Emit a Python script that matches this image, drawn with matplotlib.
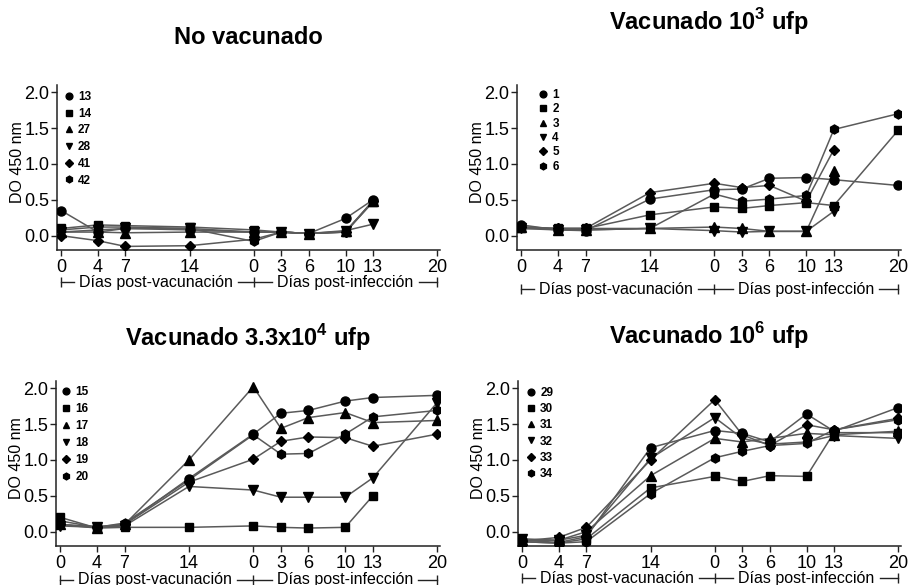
import numpy as np
import matplotlib
matplotlib.use('Agg')
import matplotlib.pyplot as plt
from matplotlib.lines import Line2D

plt.rcParams['font.family'] = ['Liberation Sans', 'DejaVu Sans']
plt.rcParams['mathtext.fontset'] = 'custom'
plt.rcParams['mathtext.rm'] = 'Liberation Sans'
plt.rcParams['mathtext.bf'] = 'Liberation Sans:bold'

nan = np.nan

# ---------------- data ----------------
vac_days = [0, 4, 7, 14]
inf_days = [0, 3, 6, 10, 13, 20]
tick_labels = [str(d) for d in vac_days + inf_days]
inf_offset = 21  # position of infection day 0 on the shared axis

titles = ['No vacunado',
          r'Vacunado 10$^{\mathbf{3}}$ ufp',
          r'Vacunado 3.3x10$^{\mathbf{4}}$ ufp',
          r'Vacunado 10$^{\mathbf{6}}$ ufp']

ids_nv = ['13', '14', '27', '28', '41', '42']
vals_nv = [
    [0.35, 0.05, 0.10, 0.08, 0.05, 0.05, 0.03, 0.24, 0.50, nan],
    [0.10, 0.15, 0.14, 0.12, 0.08, 0.05, 0.03, 0.05, 0.47, nan],
    [0.05, 0.05, 0.04, 0.05, 0.05, 0.05, 0.03, 0.06, 0.48, nan],
    [0.05, 0.08, 0.10, 0.10, 0.05, 0.05, 0.03, 0.07, 0.16, nan],
    [0.00, -0.07, -0.15, -0.14, -0.05, 0.05, 0.03, 0.05, 0.48, nan],
    [0.08, 0.12, 0.12, 0.10, -0.08, 0.05, 0.03, 0.05, 0.49, nan],
]

ids_v3 = ['1', '2', '3', '4', '5', '6']
vals_v3 = [
    [0.15, 0.08, 0.07, 0.51, 0.64, 0.65, 0.80, 0.81, 0.78, 0.70],
    [0.10, 0.10, 0.10, 0.29, 0.40, 0.38, 0.42, 0.46, 0.42, 1.47],
    [0.12, 0.08, 0.08, 0.10, 0.12, 0.10, 0.06, 0.06, 0.90, nan],
    [0.10, 0.08, 0.08, 0.10, 0.07, 0.05, 0.06, 0.06, 0.34, nan],
    [0.12, 0.10, 0.10, 0.60, 0.73, 0.67, 0.70, 0.48, 1.20, nan],
    [0.12, 0.10, 0.10, 0.10, 0.58, 0.48, 0.51, 0.56, 1.48, 1.70],
]

ids_v4 = ['15', '16', '17', '18', '19', '20']
vals_v4 = [
    [0.10, 0.07, 0.10, 0.74, 1.36, 1.65, 1.69, 1.82, 1.87, 1.90],
    [0.20, 0.05, 0.06, 0.06, 0.08, 0.06, 0.05, 0.06, 0.50, nan],
    [0.10, 0.05, 0.10, 1.00, 2.02, 1.44, 1.59, 1.66, 1.52, 1.55],
    [0.08, 0.06, 0.08, 0.63, 0.58, 0.48, 0.48, 0.48, 0.75, 1.80],
    [0.10, 0.06, 0.10, 0.69, 1.01, 1.26, 1.32, 1.31, 1.19, 1.36],
    [0.15, 0.06, 0.12, 0.72, 1.35, 1.08, 1.09, 1.36, 1.60, 1.69],
]

ids_v6 = ['29', '30', '31', '32', '33', '34']
vals_v6 = [
    [-0.12, -0.15, -0.07, 1.17, 1.41, 1.37, 1.25, 1.64, 1.40, 1.73],
    [-0.14, -0.16, -0.10, 0.61, 0.77, 0.70, 0.78, 0.77, 1.38, 1.38],
    [-0.12, -0.12, 0.00, 0.78, 1.30, 1.25, 1.30, 1.37, 1.35, 1.40],
    [-0.10, -0.12, -0.05, 1.02, 1.59, 1.30, 1.22, 1.25, 1.34, 1.30],
    [-0.13, -0.08, 0.06, 1.00, 1.84, 1.35, 1.20, 1.49, 1.42, 1.58],
    [-0.14, -0.16, -0.14, 0.53, 1.03, 1.12, 1.20, 1.23, 1.42, 1.56],
]

panels = [(ids_nv, vals_nv), (ids_v3, vals_v3), (ids_v4, vals_v4), (ids_v6, vals_v6)]

# ---------------- style / layout ----------------
markers = ['o', 's', '^', 'v', 'D', 'h']
msizes = [6.5, 6, 6.5, 6.5, 5, 6.5]
line_color = '#5a5a5a'

W, H = 909, 585
fig = plt.figure(figsize=(W / 100, H / 100), dpi=100)

# axes rectangles in pixels: left, top, right, bottom
rects_px = [(57, 85, 440, 250), (517, 85, 901, 250),
            (56, 381, 440, 546), (518, 381, 901, 546)]
title_px = [(248, 37), (709, 22), (248, 338), (709, 336)]
bracket_off = [-0.195, -0.237, -0.205, -0.195]
legend_anchor = [(0.018, 0.964), (0.055, 0.976), (0.013, 0.97), (0.021, 0.963)]
legend_spacing = [0.40, 0.20, 0.43, 0.35]

positions = vac_days + [inf_offset + d for d in inf_days]

brackets = []
for k, ((ids, vals), (l, t, r, b)) in enumerate(zip(panels, rects_px)):
    ax = fig.add_axes([l / W, 1 - b / H, (r - l) / W, (b - t) / H])
    for i, (sid, v) in enumerate(zip(ids, vals)):
        ax.plot(positions, v, color=line_color, lw=1.1, zorder=2)
        ax.plot(positions, v, linestyle='none', marker=markers[i], ms=msizes[i],
                mfc='black', mec='black', zorder=3)
    ax.set_xlim(-0.45, 41.3)
    ax.set_ylim(-0.2, 2.1)
    ax.set_xticks(positions)
    ax.set_xticklabels(tick_labels)
    ax.set_yticks([0.0, 0.5, 1.0, 1.5, 2.0])
    ax.set_yticklabels(['0.0', '0.5', '1.0', '1.5', '2.0'])
    for s in ['top', 'right']:
        ax.spines[s].set_visible(False)
    for s in ['left', 'bottom']:
        ax.spines[s].set_linewidth(1.1)
        ax.spines[s].set_color('#222222')
    ax.tick_params(axis='both', labelsize=13, length=4, width=1.0, color='#222222')
    ax.tick_params(axis='x', pad=2.5)
    ax.tick_params(axis='y', pad=1.5)
    ax.set_ylabel('DO 450 nm', fontsize=11.5)
    ax.yaxis.set_label_coords(-0.083, 0.535)

    # legend (markers only)
    handles = [Line2D([], [], linestyle='none', marker=markers[i], ms=msizes[i] * 0.75,
                      mfc='black', mec='black') for i in range(len(ids))]
    ax.legend(handles, ids, loc='upper left', bbox_to_anchor=legend_anchor[k],
              frameon=False, borderaxespad=0, borderpad=0, handlelength=0.8,
              handletextpad=0.4, labelspacing=legend_spacing[k],
              prop={'size': 8.5, 'weight': 'bold'})

    # bracket texts under the x axis
    yb = bracket_off[k]
    tr = ax.get_xaxis_transform()
    t1 = ax.text(10.3, yb, 'Días post-vacunación', transform=tr, ha='center',
                 va='center', fontsize=11.5, clip_on=False)
    t2 = ax.text(31.0, yb, 'Días post-infección', transform=tr, ha='center',
                 va='center', fontsize=11.5, clip_on=False)
    brackets.append((ax, yb, t1, t2))

    tx, ty = title_px[k]
    fig.text(tx / W, 1 - ty / H, titles[k], ha='center', va='center',
             fontsize=17, fontweight='bold')

# draw bracket lines leaving a gap around the texts
fig.canvas.draw()
renderer = fig.canvas.get_renderer()
gap_px = 5
for ax, yb, t1, t2 in brackets:
    tr = ax.get_xaxis_transform()
    inv = ax.transData.inverted()
    e1 = t1.get_window_extent(renderer)
    e2 = t2.get_window_extent(renderer)
    a0 = inv.transform((e1.x0 - gap_px, 0))[0]
    a1 = inv.transform((e1.x1 + gap_px, 0))[0]
    b0 = inv.transform((e2.x0 - gap_px, 0))[0]
    b1 = inv.transform((e2.x1 + gap_px, 0))[0]
    for xs in ([0, a0], [a1, b0], [b1, 41]):
        ax.plot(xs, [yb, yb], color='#222222', lw=1.0, transform=tr, clip_on=False)
    ax.plot([0, inf_offset, 41], [yb] * 3, linestyle='none', marker='|', ms=7,
            mew=1.0, color='#222222', transform=tr, clip_on=False)

fig.savefig('out.png', dpi=100)
